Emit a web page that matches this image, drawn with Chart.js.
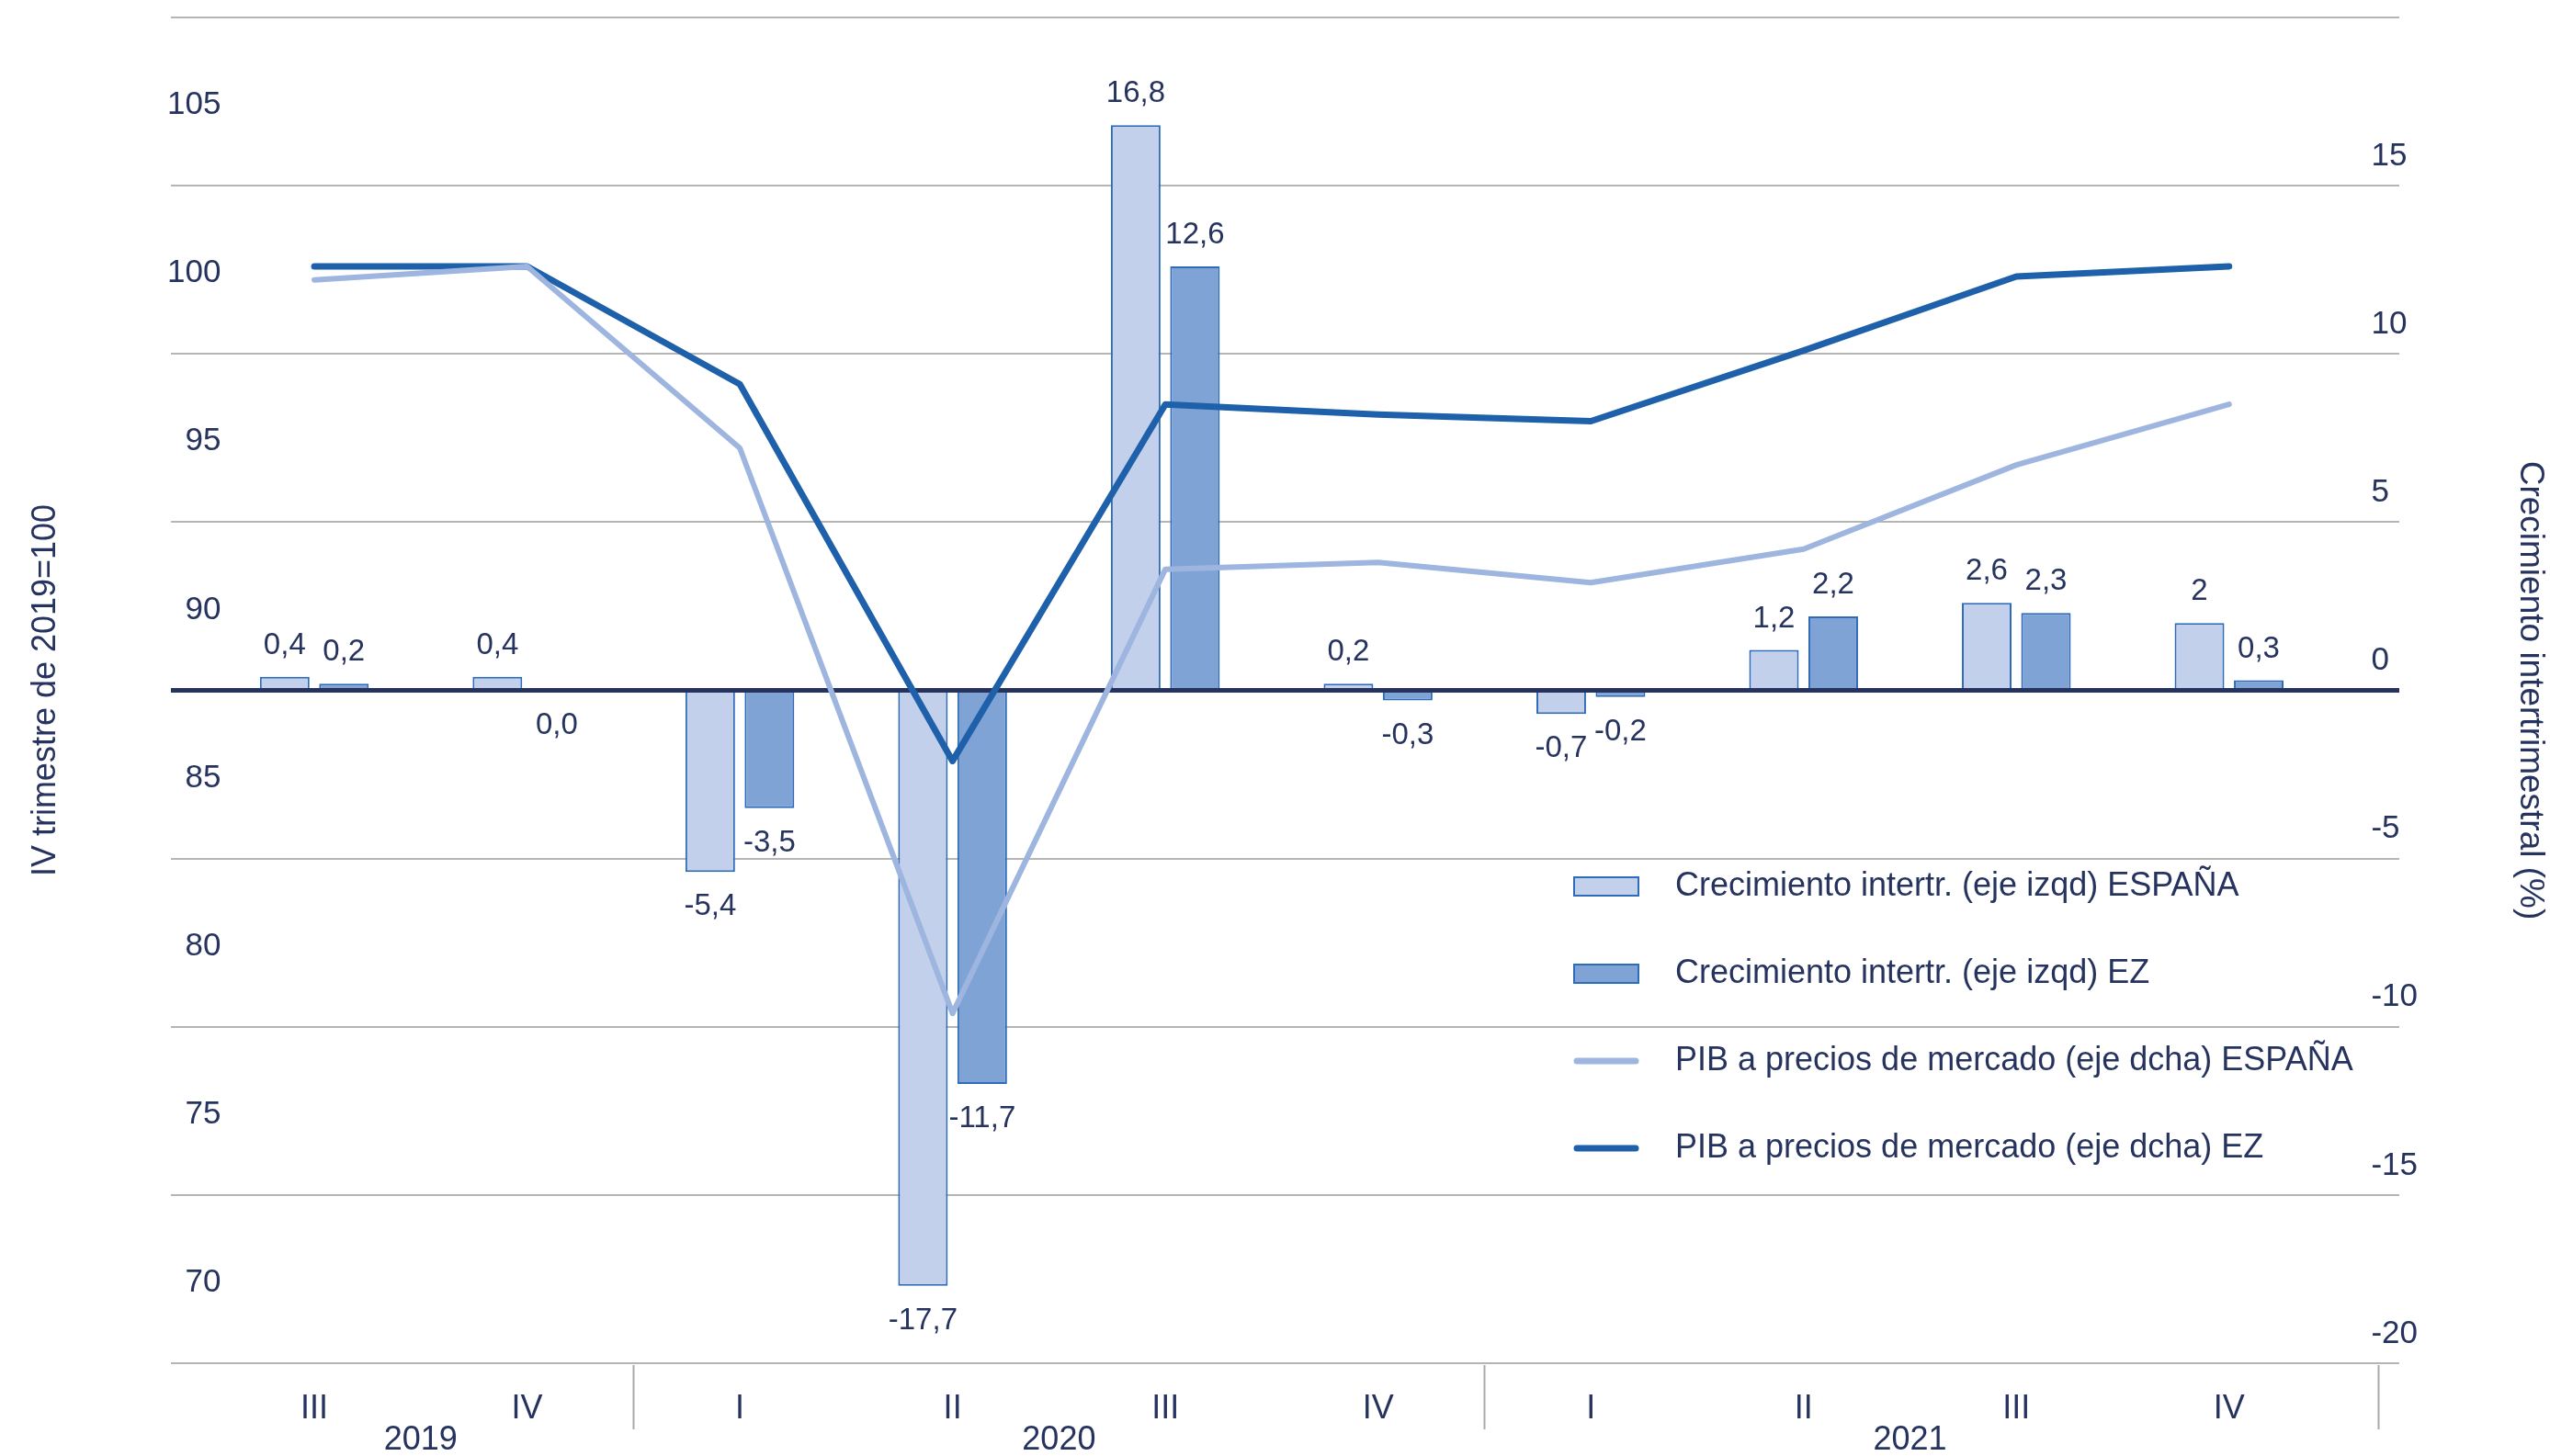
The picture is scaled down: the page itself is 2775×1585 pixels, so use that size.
<!DOCTYPE html>
<html>
<head>
<meta charset="utf-8">
<script src="https://cdn.jsdelivr.net/npm/chart.js@4"></script>
<style>
  html, body { margin:0; padding:0; background:#fff; }
  #wrap { width:2775px; height:1585px; position:relative; }
</style>
</head>
<body>
<div id="wrap"><canvas id="chart_pib"></canvas></div>
<script>
// data
const quarters = ['III','IV','I','II','III','IV','I','II','III','IV']
const quarterYears = ['2019','2019','2020','2020','2020','2020','2021','2021','2021','2021']
const growthSpain = [0.4, 0.4, -5.4, -17.7, 16.8, 0.2, -0.7, 1.2, 2.6, 2]
const growthEZ = [0.2, 0.0, -3.5, -11.7, 12.6, -0.3, -0.2, 2.2, 2.3, 0.3]
const pibSpain = [99.7, 100.1, 94.7, 77.9, 91.1, 91.3, 90.7, 91.7, 94.2, 96.0]
const pibEZ = [100.1, 100.1, 96.6, 85.4, 96.0, 95.7, 95.5, 97.6, 99.8, 100.1]
const leftTicks = [70, 75, 80, 85, 90, 95, 100, 105]
const rightTicks = [-20, -15, -10, -5, 0, 5, 10, 15, 20]

const NAVY = '#26335f'
const FONT = "'Liberation Sans', Arial, sans-serif"
Chart.defaults.font.family = FONT
Chart.defaults.color = NAVY

const fmt = v => v === 0 ? '0,0' : String(v).replace('.', ',')
const xy = arr => arr.map((v, i) => ({x: i, y: v}))

// value labels on the bars
const barLabels = {
  id: 'barLabels',
  afterDatasetsDraw(chart){
    const ctx = chart.ctx
    ctx.save()
    ctx.font = '33px ' + FONT
    ctx.fillStyle = NAVY
    ctx.textAlign = 'center'
    ctx.textBaseline = 'middle'
    chart.data.datasets.forEach((ds, di) => {
      if(ds.type !== 'bar') return
      chart.getDatasetMeta(di).data.forEach((el, i) => {
        const v = ds.data[i].y
        const y = v > 0 ? el.y - 34 : Math.max(el.y, el.base) + 38
        ctx.fillText(fmt(v), el.x, y)
      })
    })
    ctx.restore()
  }
}

// year names and separators under the quarter ticks
const yearAxis = {
  id: 'yearAxis',
  afterDraw(chart){
    const ctx = chart.ctx
    const sx = chart.scales.x
    const bottom = chart.chartArea.bottom
    const years = [...new Set(quarterYears)]
    ctx.save()
    ctx.strokeStyle = '#a9a9a9'
    ctx.lineWidth = 2
    ctx.font = '36px ' + FONT
    ctx.fillStyle = NAVY
    ctx.textAlign = 'center'
    ctx.textBaseline = 'middle'
    years.forEach(yr => {
      const first = quarterYears.indexOf(yr)
      const last = quarterYears.lastIndexOf(yr)
      const mid = sx.getPixelForValue((first + last) / 2)
      ctx.fillText(yr, mid, bottom + 84)
      const edge = last === quarterYears.length - 1 ? last + 0.7 : last + 0.5
      const px = Math.round(sx.getPixelForValue(edge)) + 0.5
      ctx.beginPath()
      ctx.moveTo(px, bottom + 2)
      ctx.lineTo(px, bottom + 72)
      ctx.stroke()
    })
    ctx.restore()
  }
}

// legend inside the plot
const legendBox = {
  id: 'legendBox',
  afterDraw(chart){
    const ctx = chart.ctx
    const x0 = 1713, y0 = 965, step = 95
    ctx.save()
    chart.data.datasets.forEach((ds, i) => {
      const y = y0 + i * step
      if(ds.type === 'bar'){
        ctx.fillStyle = ds.backgroundColor
        ctx.strokeStyle = ds.borderColor
        ctx.lineWidth = 2
        ctx.fillRect(x0, y - 10, 70, 20)
        ctx.strokeRect(x0, y - 10, 70, 20)
      } else {
        ctx.strokeStyle = ds.borderColor
        ctx.lineWidth = 7
        ctx.lineCap = 'round'
        ctx.beginPath()
        ctx.moveTo(x0 + 3, y)
        ctx.lineTo(x0 + 67, y)
        ctx.stroke()
      }
      ctx.font = '36px ' + FONT
      ctx.fillStyle = NAVY
      ctx.textAlign = 'left'
      ctx.textBaseline = 'middle'
      ctx.fillText(ds.label, x0 + 110, y)
    })
    ctx.restore()
  }
}

new Chart(document.getElementById('chart_pib'), {
  data: {
    datasets: [
      {
        type: 'bar',
        label: 'Crecimiento intertr. (eje izqd) ESPAÑA',
        data: xy(growthSpain),
        yAxisID: 'yR',
        backgroundColor: '#c3d0eb',
        borderColor: '#2e6bb8',
        borderWidth: 2,
        categoryPercentage: 0.557,
        barPercentage: 0.837,
        order: 1
      },
      {
        type: 'bar',
        label: 'Crecimiento intertr. (eje izqd) EZ',
        data: xy(growthEZ),
        yAxisID: 'yR',
        backgroundColor: '#80a3d6',
        borderColor: '#2e6bb8',
        borderWidth: 2,
        categoryPercentage: 0.557,
        barPercentage: 0.837,
        order: 1
      },
      {
        type: 'line',
        label: 'PIB a precios de mercado (eje dcha) ESPAÑA',
        data: xy(pibSpain),
        yAxisID: 'yL',
        borderColor: '#9db5df',
        borderWidth: 6,
        pointRadius: 0,
        borderCapStyle: 'round',
        borderJoinStyle: 'round',
        tension: 0,
        order: 0
      },
      {
        type: 'line',
        label: 'PIB a precios de mercado (eje dcha) EZ',
        data: xy(pibEZ),
        yAxisID: 'yL',
        borderColor: '#1e60a9',
        borderWidth: 7,
        pointRadius: 0,
        borderCapStyle: 'round',
        borderJoinStyle: 'round',
        tension: 0,
        order: 0
      }
    ]
  },
  options: {
    responsive: true,
    maintainAspectRatio: false,
    animation: false,
    layout: { padding: { left: 28, right: 0, top: 19, bottom: 0 } },
    plugins: {
      legend: { display: false },
      tooltip: { enabled: false }
    },
    scales: {
      x: {
        type: 'linear',
        offset: false,
        min: -0.674,
        max: 9.8,
        grid: { display: false, drawTicks: false, offset: false },
        border: { display: false },
        afterBuildTicks: s => { s.ticks = quarters.map((q, i) => ({value: i})) },
        afterFit: s => { s.height = 101; s.paddingLeft = 0; s.paddingRight = 0 },
        ticks: {
          font: { size: 36 },
          color: NAVY,
          padding: 28,
          maxRotation: 0,
          autoSkip: false,
          callback: v => quarters[v]
        }
      },
      yL: {
        type: 'linear',
        position: 'left',
        min: 67.5,
        max: 107.5,
        grid: { display: false, drawTicks: false },
        border: { display: false },
        afterBuildTicks: s => { s.ticks = leftTicks.map(v => ({value: v})) },
        afterFit: s => { s.width = 158; s.paddingTop = 0; s.paddingBottom = 0 },
        ticks: {
          font: { size: 35 },
          color: NAVY,
          mirror: true,
          crossAlign: 'far',
          padding: -4,
          labelOffset: 4
        },
        title: {
          display: true,
          text: 'IV trimestre de 2019=100',
          font: { size: 36 },
          color: NAVY,
          padding: 0
        }
      },
      yR: {
        type: 'linear',
        position: 'right',
        min: -20,
        max: 20,
        grid: {
          drawTicks: false,
          color: c => c.tick && c.tick.value === 0 ? '#26335f' : '#b5b5b5',
          lineWidth: c => c.tick && c.tick.value === 0 ? 5 : 2
        },
        border: { display: false },
        afterBuildTicks: s => { s.ticks = rightTicks.map(v => ({value: v})) },
        afterFit: s => { s.width = 164; s.paddingTop = 0; s.paddingBottom = 0 },
        ticks: {
          font: { size: 35 },
          color: NAVY,
          mirror: true,
          crossAlign: 'far',
          padding: 20,
          labelOffset: -32,
          callback: v => v === 20 ? '' : String(v)
        },
        title: {
          display: true,
          text: 'Crecimiento intertrimestral (%)',
          font: { size: 37 },
          color: NAVY,
          padding: 0
        }
      }
    }
  },
  plugins: [barLabels, yearAxis, legendBox]
})
</script>
</body>
</html>
